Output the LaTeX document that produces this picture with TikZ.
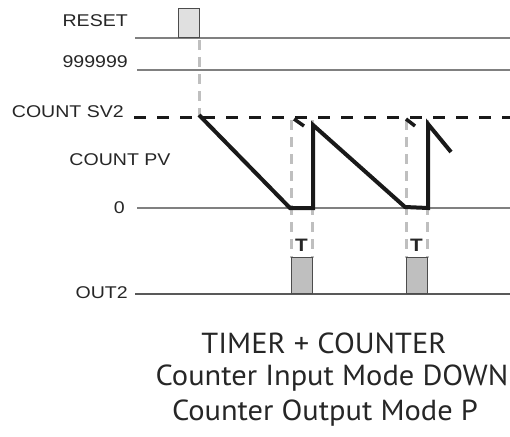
\documentclass[tikz,border=0pt]{standalone}
\usepackage{fontspec}
\setmainfont[FakeStretch=1.15]{Liberation Sans}
\newfontfamily\capfont[FakeStretch=1.05]{PT Sans}
\begin{document}
\begin{tikzpicture}[x=1pt,y=-1pt,
  lbl/.style={font=\fontsize{17}{19}\selectfont, text=black!85, inner sep=0pt},
  axis/.style={draw=black!50, line width=1.3pt},
  guide/.style={draw=black!25, line width=3pt, dash pattern=on 10pt off 7pt},
  wave/.style={draw=black!90, line width=4pt, line join=miter},
  pulse/.style={draw=black!70, line width=1.2pt, fill=black!25},
  tlbl/.style={font=\bfseries\fontsize{18}{20}\selectfont, text=black!85, inner sep=0pt},
  captext/.style={font=\capfont\fontsize{29}{32}\selectfont, text=black!85, inner sep=0pt}]
\useasboundingbox (0,0) rectangle (510,436);
% labels
\node[lbl, anchor=east] (reset) at (128,21) {RESET};
\node[lbl, anchor=east] (nines) at (128,62) {999999};
\node[lbl, anchor=east] (sv) at (124,112) {COUNT SV2};
\node[lbl, anchor=center] (pv) at (120,160) {COUNT PV};
\node[lbl, anchor=east] (zero) at (125,208) {0};
\node[lbl, anchor=east] (out) at (128,293) {OUT2};
% coordinates
\coordinate (r0) at (135,38); \coordinate (r1) at (510,38);
\coordinate (n0) at (137,70); \coordinate (n1) at (510,70);
\coordinate (s0) at (134,117); \coordinate (s1) at (510,117);
\coordinate (z0) at (137,208); \coordinate (z1) at (510,208);
\coordinate (o0) at (135,294); \coordinate (o1) at (510,294);
% guides
\draw[guide] (199,40) -- (199,117);
\draw[guide] (291,120) -- (291,258);
\draw[guide] (312,120) -- (312,258);
\draw[guide] (406,120) -- (406,258);
\draw[guide] (427,120) -- (427,258);
% axes
\draw[axis] (r0) -- (r1);
\draw[axis] (n0) -- (n1);
\draw[axis] (z0) -- (z1);
\draw[draw=black!65, line width=1.4pt] (o0) -- (o1);
\draw[draw=black!90, line width=3pt, dash pattern=on 12pt off 11pt] (s0) -- (s1);
% reset pulse
\node[draw=black!70, line width=1.2pt, fill=black!12, minimum width=21pt, minimum height=29pt, inner sep=0pt, anchor=south west] (rp) at (178,38) {};
% waveform
\draw[wave] (199,115) -- (290,208) -- (313,208) -- (313,125) -- (405,207) -- (428,208) -- (428,124) -- (451,152);
\draw[wave, line width=3.5pt] (294,119) -- (304,126);
\draw[wave, line width=3.5pt] (406,119) -- (415,126);
% out pulses
\node[pulse, minimum width=21pt, minimum height=36pt, inner sep=0pt, anchor=south west] (p1) at (291,294) {};
\node[pulse, minimum width=21pt, minimum height=36pt, inner sep=0pt, anchor=south west] (p2) at (406,294) {};
\node[tlbl] (t1) at (301.5,245) {T};
\node[tlbl] (t2) at (416.5,245) {T};
% caption
\node[captext] (c1) at (324,343) {TIMER + COUNTER};
\node[captext] (c2) at (332,378) {Counter Input Mode DOWN};
\node[captext] (c3) at (325,413) {Counter Output Mode P};
\end{tikzpicture}
\end{document}
